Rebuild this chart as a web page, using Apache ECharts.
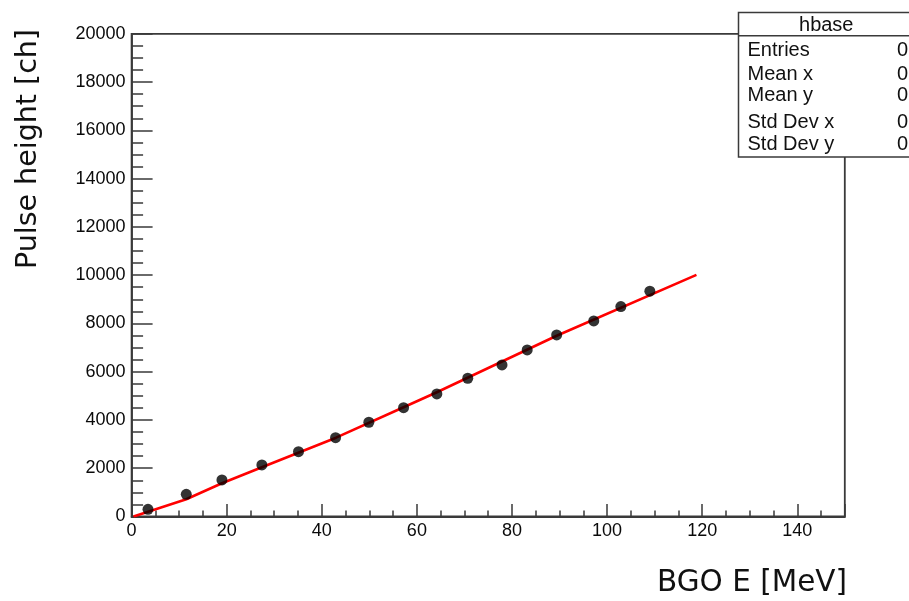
<!DOCTYPE html>
<html>
<head>
<meta charset="utf-8">
<script src="https://cdn.jsdelivr.net/npm/echarts@6/dist/echarts.min.js"></script>
<style>
  html, body { margin: 0; padding: 0; background: #fff; }
  #chart { width: 909px; height: 601px; }
</style>
</head>
<body>
<div id="chart"></div>
<script>
// BGO calibration: measured pulse height versus deposited energy
const energyMeV = [3.45, 11.5, 19.0, 27.4, 35.1, 42.9, 49.9, 57.2, 64.2, 70.7, 77.9, 83.2, 89.4, 97.2, 102.9, 109.0];
const pulseHeightCh = [298, 920, 1513, 2135, 2686, 3266, 3905, 4510, 5078, 5728, 6280, 6902, 7523, 8104, 8697, 9335];

// Fitted calibration curve, sampled along its length
const fitX = [0.4, 11.5, 19.0, 27.4, 43.0, 57.2, 64.2, 89.4, 118.8];
const fitY = [0, 713, 1376, 2039, 3266, 4526, 5150, 7490, 10010];

// Statistics box contents
const statsTitle = 'hbase';
const statsNames = ['Entries', 'Mean x', 'Mean y', 'Std Dev x', 'Std Dev y'];
const statsValues = ['0', '0', '0', '0', '0'];

const xTitle = 'BGO E [MeV]';
const yTitle = 'Pulse height [ch]';

const axisColor = '#3a3a3a';
const labelFont = { fontFamily: 'Liberation Sans, Arial, sans-serif', fontSize: 18, color: '#0a0a0a' };
const statsFont = '20px "Liberation Sans", Arial, sans-serif';

const chart = echarts.init(document.getElementById('chart'), null, { renderer: 'canvas' });

// Stats box elements (rendered over the frame, clipped by the page edge)
const boxLeft = 738.5, boxTop = 12.5, boxRight = 916, boxBottom = 157;
const rowY = [50, 74, 95, 122.5, 144];
const statsGraphics = [
  {
    type: 'rect', z: 100,
    shape: { x: boxLeft, y: boxTop, width: boxRight - boxLeft, height: boxBottom - boxTop },
    style: { fill: '#fff', stroke: axisColor, lineWidth: 1.5 }
  },
  {
    type: 'line', z: 101,
    shape: { x1: boxLeft, y1: 35.7, x2: boxRight, y2: 35.7 },
    style: { stroke: axisColor, lineWidth: 1.5 }
  },
  {
    type: 'text', z: 101, x: (boxLeft + boxRight) / 2 - 1, y: 25,
    style: { text: statsTitle, textAlign: 'center', textVerticalAlign: 'middle', font: statsFont, fill: '#111' }
  }
];
statsNames.forEach((name, i) => {
  statsGraphics.push({
    type: 'text', z: 101, x: 747.5, y: rowY[i],
    style: { text: name, textAlign: 'left', textVerticalAlign: 'middle', font: statsFont, fill: '#111' }
  });
  statsGraphics.push({
    type: 'text', z: 101, x: 897, y: rowY[i],
    style: { text: statsValues[i], textAlign: 'left', textVerticalAlign: 'middle', font: statsFont, fill: '#111' }
  });
});

const option = {
  animation: false,
  backgroundColor: '#fff',
  grid: {
    left: 131.6, top: 33.8, width: 713.2, height: 482.7,
    show: true, borderColor: axisColor, borderWidth: 1.8, backgroundColor: 'transparent'
  },
  xAxis: {
    type: 'value', min: 0, max: 150, interval: 20,
    axisLine: { show: true, lineStyle: { color: axisColor, width: 1.8 } },
    axisTick: { show: true, inside: true, length: 12.5, lineStyle: { color: axisColor, width: 1.5 } },
    minorTick: { show: true, splitNumber: 4, length: 6, lineStyle: { color: axisColor, width: 1.5 } },
    splitLine: { show: false },
    axisLabel: Object.assign({ margin: 6, showMaxLabel: false, formatter: v => String(v) }, labelFont)
  },
  yAxis: {
    type: 'value', min: 0, max: 20000, interval: 2000,
    axisLine: { show: true, lineStyle: { color: axisColor, width: 1.8 } },
    axisTick: { show: true, inside: true, length: 21, lineStyle: { color: axisColor, width: 1.5 } },
    minorTick: { show: true, splitNumber: 4, length: 11.5, lineStyle: { color: axisColor, width: 1.5 } },
    splitLine: { show: false },
    axisLabel: Object.assign({ margin: 6, formatter: v => String(v) }, labelFont)
  },
  graphic: [
    {
      type: 'text', x: 847, y: 583,
      style: { text: xTitle, textAlign: 'right', textVerticalAlign: 'middle',
        font: '29.5px "DejaVu Sans", Verdana, sans-serif', fill: '#111' }
    },
    {
      type: 'text', x: 29, y: 149, rotation: Math.PI / 2,
      style: { text: yTitle, textAlign: 'center', textVerticalAlign: 'middle',
        font: '28.5px "DejaVu Sans", Verdana, sans-serif', fill: '#111' }
    }
  ].concat(statsGraphics),
  series: [
    {
      type: 'line',
      data: fitX.map((x, i) => [x, fitY[i]]),
      showSymbol: false, symbol: 'none',
      lineStyle: { color: '#ff0000', width: 2.6, join: 'round' },
      z: 2
    },
    {
      type: 'scatter',
      data: energyMeV.map((x, i) => [x, pulseHeightCh[i]]),
      symbol: 'circle', symbolSize: 11,
      itemStyle: { color: '#000' },
      z: 3
    }
  ]
};

chart.setOption(option);
</script>
</body>
</html>
